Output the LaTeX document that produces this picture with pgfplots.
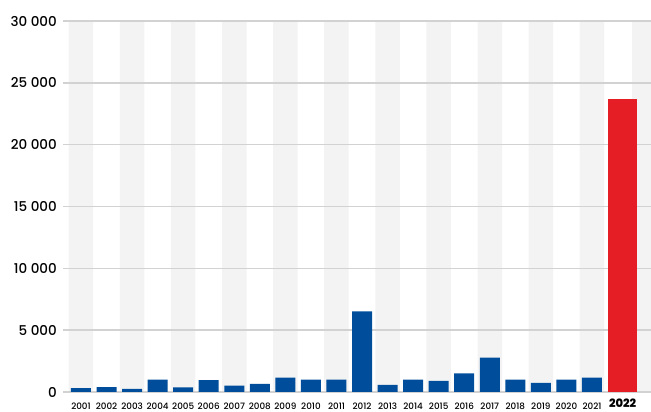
\documentclass[border=0pt]{standalone}
\usepackage{pgfplots}
\pgfplotsset{compat=1.18}
\usepackage{fontspec}
\setmainfont{Poppins}[BoldFont={Poppins SemiBold}]
\newfontfamily\popsmed{Poppins Medium}

\definecolor{barblue}{RGB}{0,78,155}
\definecolor{barred}{RGB}{228,30,36}
\definecolor{band}{RGB}{243,243,243}
\definecolor{gridgray}{RGB}{210,210,210}

\begin{document}
\begin{tikzpicture}
  \begin{axis}[
    set layers,
    scale only axis,
    width=588pt, height=371pt,
    xmin=-0.7045, xmax=22.31,
    ymin=0, ymax=30000,
    scaled y ticks=false,
    axis line style={draw=none},
    major tick length=0pt,
    ymajorgrids,
    grid style={gridgray, line width=1.5pt},
    ytick={0,5000,10000,15000,20000,25000,30000},
    yticklabels={0\hspace{31pt},5 000,10 000,15 000,20 000,25 000,30 000},
    yticklabel style={font=\popsmed\fontsize{13.5}{14}\selectfont, anchor=east, inner sep=0pt, xshift=-6pt},
    xtick={0,1,2,3,4,5,6,7,8,9,10,11,12,13,14,15,16,17,18,19,20,21.2},
    xticklabels={2001,2002,2003,2004,2005,2006,2007,2008,2009,2010,2011,2012,2013,2014,2015,2016,2017,2018,2019,2020,2021,{\raisebox{1.5pt}{\bfseries\fontsize{11.5}{12}\selectfont 2022}}},
    xticklabel style={font=\popsmed\fontsize{8.8}{9}\selectfont, anchor=base, inner sep=0pt, yshift=-17.5pt},
  ]
    % alternating column bands
    \addplot[on layer=axis background, ybar, bar width=24.5pt, bar shift=0pt, fill=band, draw=none]
      coordinates {(0,30000) (2,30000) (4,30000) (6,30000) (8,30000) (10,30000)
                   (12,30000) (14,30000) (16,30000) (18,30000) (20,30000) (22.05,30000)};
    % 2001-2021
    \addplot[ybar, bar width=20pt, bar shift=0pt, fill=barblue, draw=none]
      coordinates {(0,320) (1,400) (2,250) (3,1000) (4,380) (5,950) (6,510)
                   (7,650) (8,1160) (9,1000) (10,1000) (11,6520) (12,570)
                   (13,1000) (14,890) (15,1510) (16,2780) (17,1000) (18,730)
                   (19,1000) (20,1160)};
    % 2022
    \addplot[ybar, bar width=29pt, bar shift=0pt, fill=barred, draw=none]
      coordinates {(21.2,23700)};
  \end{axis}
  \pgfresetboundingbox
  \path[use as bounding box] ([xshift=-63pt,yshift=-20pt]current axis.south west)
    rectangle ([yshift=21pt]current axis.north east);
\end{tikzpicture}
\end{document}
